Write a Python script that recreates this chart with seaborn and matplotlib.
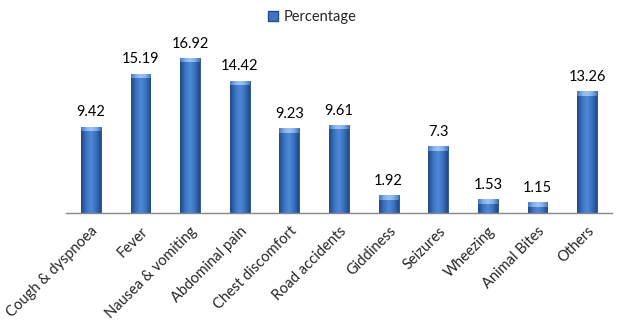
import matplotlib
matplotlib.use("Agg")
import matplotlib.pyplot as plt
import seaborn as sns
import pandas as pd
import numpy as np
from matplotlib.patches import Patch
from matplotlib.colors import LinearSegmentedColormap

categories = ["Cough & dyspnoea", "Fever", "Nausea & vomiting", "Abdominal pain",
              "Chest discomfort", "Road accidents", "Giddiness", "Seizures",
              "Wheezing", "Animal Bites", "Others"]
values = [9.42, 15.19, 16.92, 14.42, 9.23, 9.61, 1.92, 7.3, 1.53, 1.15, 13.26]
labels = ["9.42", "15.19", "16.92", "14.42", "9.23", "9.61", "1.92", "7.3", "1.53", "1.15", "13.26"]
series_name = "Percentage"

df = pd.DataFrame({"Category": categories, "Value": values})

sns.set_theme(style="white")
plt.rcParams["font.family"] = ["Lato", "DejaVu Sans"]

fig = plt.figure(figsize=(6.24, 3.29), dpi=100)
ax = fig.add_axes([0.1058, 0.3526, 0.875, 0.5015])

sns.barplot(data=df, x="Category", y="Value", color="#3f74c0", width=0.4,
            edgecolor="#224d88", linewidth=0.6, saturation=1, ax=ax)

ax.set_ylim(0, 18)
ax.set_xlim(-0.5, len(categories) - 0.5)

# horizontal shading gradient + lighter top cap, clipped to each bar
cmap = LinearSegmentedColormap.from_list(
    "bar", ["#1f4a85", "#3b72c0", "#4f8ad8", "#3b72c0", "#1f4a85"])
cap_cmap = LinearSegmentedColormap.from_list(
    "cap", ["#4a7cc4", "#8fb8ec", "#a9cbf3", "#8fb8ec", "#4a7cc4"])
xg = np.linspace(0, 1, 64)
for p in ax.patches:
    x0, y0 = p.get_x(), p.get_y()
    w, h = p.get_width(), p.get_height()
    grad = np.tile(xg, (2, 1))
    im = ax.imshow(grad, cmap=cmap, aspect="auto", extent=[x0, x0 + w, y0, y0 + h],
                   origin="lower", zorder=2.1, interpolation="bicubic")
    im.set_clip_path(p)
    cap_h = min(0.5, h * 0.45)
    im2 = ax.imshow(grad, cmap=cap_cmap, aspect="auto",
                    extent=[x0, x0 + w, y0 + h - cap_h, y0 + h],
                    origin="lower", zorder=2.2, interpolation="bicubic", alpha=0.9)
    im2.set_clip_path(p)
ax.set_xlim(-0.5, len(categories) - 0.5)
ax.set_ylim(0, 18)

for i, (v, t) in enumerate(zip(values, labels)):
    ax.text(i, v + 0.8, t, ha="center", va="bottom", fontsize=10.5, color="black")

ax.set_xlabel("")
ax.set_ylabel("")
ax.set_yticks([])
ax.tick_params(axis="x", length=0, pad=8)
plt.setp(ax.get_xticklabels(), rotation=45, ha="right", rotation_mode="anchor", fontsize=10.5)
for s in ["top", "right", "left"]:
    ax.spines[s].set_visible(False)
ax.spines["bottom"].set_color("#888888")
ax.spines["bottom"].set_linewidth(1)
ax.spines["bottom"].set_zorder(3)

handle = Patch(facecolor="#3f74c0", edgecolor="#224d88")
fig.legend([handle], [series_name], loc="center", bbox_to_anchor=(0.5, 0.948),
           frameon=False, fontsize=10.5, handlelength=0.7, handleheight=0.7, handletextpad=0.4)

fig.savefig("out.png", dpi=100)
